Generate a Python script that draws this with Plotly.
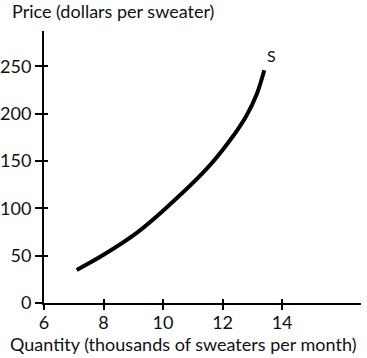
import plotly.graph_objects as go

quantity = [7.1, 8.0, 9.15, 10.12, 11.47, 12.25, 12.8, 13.15, 13.4]
price = [35, 51, 75, 101, 142, 172, 198, 221, 246]
x_ticks = [6, 8, 10, 12, 14]
y_ticks = [0, 50, 100, 150, 200, 250]

FONT = "Lato"
L, R, T, B = 44, 6, 31, 55
W, H = 367, 358
PW, PH = W - L - R, H - T - B
X0, Y0 = L, H - B  # page pixel position of plot origin

fig = go.Figure()
fig.add_trace(go.Scatter(x=quantity, y=price, mode="lines",
                         line=dict(color="black", width=4, shape="spline", smoothing=1.0),
                         hoverinfo="skip", showlegend=False))
# invisible trace for overlay axes (inside tick halves)
fig.add_trace(go.Scatter(x=[quantity[0]], y=[price[0]], xaxis="x2", yaxis="y2",
                         mode="markers", marker=dict(opacity=0), showlegend=False,
                         hoverinfo="skip"))

tick_font = dict(family=FONT, size=18, color="#111")
fig.update_layout(
    width=W, height=H,
    margin=dict(l=L, r=R, t=T, b=B),
    paper_bgcolor="white", plot_bgcolor="white",
    xaxis=dict(range=[6, 16.65], tickvals=x_ticks, ticks="outside", ticklen=5,
               tickwidth=1.5, tickcolor="black", showline=True, linecolor="black",
               linewidth=2, showgrid=False, zeroline=False, tickfont=tick_font,
               automargin=False, ticklabelstandoff=-3),
    yaxis=dict(range=[0, 287.5], tickvals=y_ticks, ticks="outside", ticklen=7,
               tickwidth=1.5, tickcolor="black", showline=True, linecolor="black",
               linewidth=2, showgrid=False, zeroline=False, tickfont=tick_font,
               automargin=False),
    xaxis2=dict(overlaying="x", matches="x", anchor="y2", tickvals=x_ticks,
                ticks="inside", ticklen=4, tickwidth=1.5, tickcolor="black",
                showticklabels=False, showgrid=False, zeroline=False, showline=False,
                automargin=False),
    yaxis2=dict(overlaying="y", matches="y", anchor="x2", tickvals=y_ticks,
                ticks="inside", ticklen=4, tickwidth=1.5, tickcolor="black",
                showticklabels=False, showgrid=False, zeroline=False, showline=False,
                automargin=False),
    annotations=[
        dict(text="Price (dollars per sweater)", xref="paper", yref="paper",
             x=(10 - X0) / PW, y=(Y0 - 11) / PH, xanchor="left", yanchor="middle",
             showarrow=False, font=dict(family=FONT, size=18, color="#111")),
        dict(text="Quantity (thousands of sweaters per month)", xref="paper",
             yref="paper", x=(183 - X0) / PW, y=(Y0 - 344) / PH, xanchor="center",
             yanchor="middle", showarrow=False,
             font=dict(family=FONT, size=18, color="#111")),
        dict(text="S", x=quantity[-1], y=price[-1], xref="x", yref="y",
             xanchor="left", yanchor="bottom", xshift=1, yshift=3, showarrow=False,
             font=dict(family=FONT, size=16, color="#111")),
    ],
)
fig.write_html("out.html", config={"displayModeBar": False},
               post_script="document.body.style.margin='0';")
